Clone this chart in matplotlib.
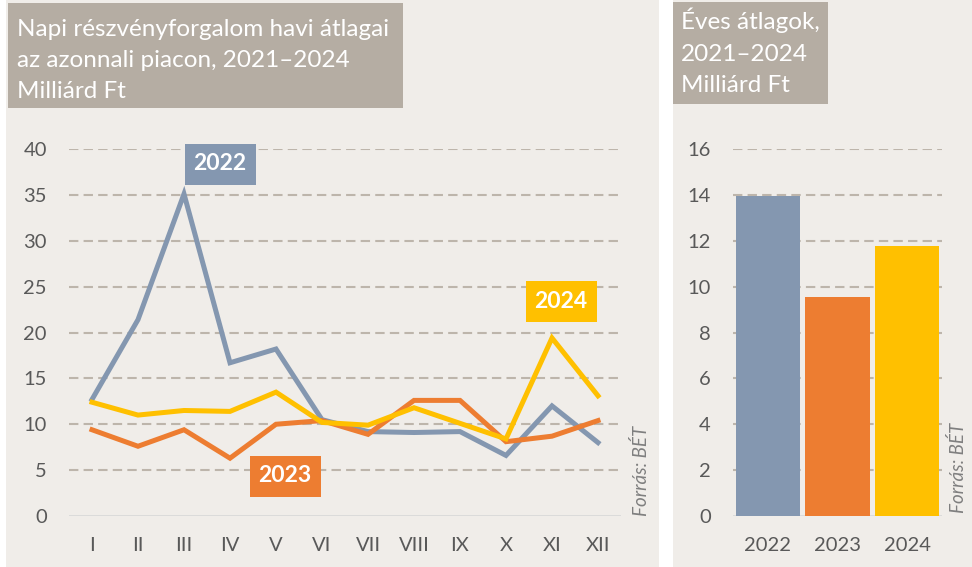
import matplotlib
matplotlib.use("Agg")
import matplotlib.pyplot as plt
from matplotlib.patches import Rectangle

plt.rcParams['font.family'] = ['Lato', 'DejaVu Sans']

months = ['I', 'II', 'III', 'IV', 'V', 'VI', 'VII', 'VIII', 'IX', 'X', 'XI', 'XII']
y2022 = [12.7, 21.4, 35.1, 16.7, 18.2, 10.5, 9.2, 9.1, 9.2, 6.6, 12.0, 8.0]
y2023 = [9.4, 7.6, 9.4, 6.3, 10.0, 10.4, 8.9, 12.6, 12.6, 8.1, 8.7, 10.4]
y2024 = [12.4, 11.0, 11.5, 11.4, 13.5, 10.2, 9.9, 11.8, 10.1, 8.4, 19.4, 13.1]

years = ['2022', '2023', '2024']
annual = [13.95, 9.55, 11.75]

left_title = ['Napi részvényforgalom havi átlagai', 'az azonnali piacon, 2021–2024', 'Milliárd Ft']
right_title = ['Éves átlagok,', '2021–2024', 'Milliárd Ft']
source = 'Forrás: BÉT'

colors = {'2022': '#8497b0', '2023': '#ed7d31', '2024': '#ffc000'}
panel_bg = '#f0ede9'
title_bg = '#b5ada3'
grid_c = '#bdb5ab'
text_c = '#595959'

W, H = 972, 567
fig = plt.figure(figsize=(W / 100, H / 100), dpi=100)
fig.patch.set_facecolor('white')


def px_rect(x0, y0, x1, y1, color, z):
    # rectangle given in pixel coords, y from top
    fig.patches.append(Rectangle((x0 / W, 1 - y1 / H), (x1 - x0) / W, (y1 - y0) / H,
                                 transform=fig.transFigure, facecolor=color,
                                 edgecolor='none', zorder=z))


def px_axes(x0, y0, x1, y1):
    return fig.add_axes([x0 / W, 1 - y1 / H, (x1 - x0) / W, (y1 - y0) / H])


# panels and title boxes (behind the axes)
px_rect(6, 0, 659, 567, panel_bg, -3)
px_rect(673, 0, 972, 567, panel_bg, -3)
px_rect(8, 3, 403, 108, title_bg, -2)
px_rect(673, 2, 828, 104, title_bg, -2)

for line, yb in zip(left_title, [36, 67, 98]):
    fig.text(17 / W, 1 - yb / H, line, color='white', fontsize=17.5, va='baseline', ha='left')
for line, yb in zip(right_title, [29, 61, 92]):
    fig.text(681 / W, 1 - yb / H, line, color='white', fontsize=17.5, va='baseline', ha='left')


def style(ax, ymax, step):
    ax.set_facecolor('none')
    for s in ax.spines.values():
        s.set_visible(False)
    ax.set_ylim(0, ymax)
    ax.set_yticks(range(0, ymax + 1, step))
    ax.tick_params(length=0, colors=text_c, labelsize=14.5)
    ax.tick_params(axis='y', pad=16)
    ax.tick_params(axis='x', pad=15)
    for v in range(step, ymax + 1, step):
        ax.axhline(v, color=grid_c, lw=1.5, ls=(0, (4.5, 2.5)), zorder=0)
    ax.axhline(0, color='#d9d9d9', lw=2, zorder=0)


# monthly lines
ax1 = px_axes(69, 149, 621, 516)
style(ax1, 40, 5)
x = list(range(len(months)))
ax1.set_xlim(-0.5, 11.5)
ax1.set_xticks(x)
ax1.set_xticklabels(months)
for name, vals in [('2022', y2022), ('2023', y2023), ('2024', y2024)]:
    ax1.plot(x, vals, color=colors[name], lw=3.6, solid_joinstyle='miter', zorder=3)

for name, (cx, cy) in [('2022', (220, 164)), ('2023', (285, 476)), ('2024', (561, 301))]:
    fig.patches.append(Rectangle(((cx - 35.5) / W, 1 - (cy + 20.5) / H), 71 / W, 41 / H,
                                 transform=fig.transFigure, facecolor=colors[name],
                                 edgecolor='none', zorder=5))
    fig.text(cx / W, 1 - cy / H, name, color='white', fontsize=16.5, fontweight='bold',
             ha='center', va='center', zorder=6)

fig.text(641 / W, 1 - 516 / H, source, rotation=90, style='italic',
         color='#7f7f7f', fontsize=13.5, ha='center', va='bottom')

# annual bars
ax2 = px_axes(733, 149, 942, 516)
style(ax2, 16, 2)
ax2.set_xlim(-0.5, 2.5)
ax2.bar(range(len(years)), annual, width=0.92, color=[colors[y] for y in years], zorder=2)
ax2.set_xticks(range(len(years)))
ax2.set_xticklabels(years)

fig.text(958 / W, 1 - 513 / H, source, rotation=90, style='italic',
         color='#7f7f7f', fontsize=13.5, ha='center', va='bottom')

fig.savefig('out.png', dpi=100, facecolor=fig.get_facecolor())
